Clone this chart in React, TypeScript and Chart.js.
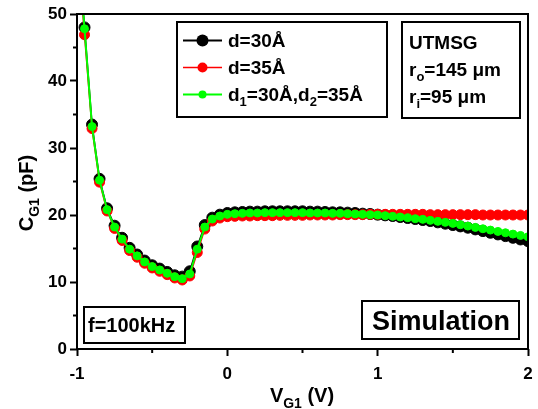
import React, { useEffect, useRef } from 'react';
import { Chart, registerables } from 'chart.js';
Chart.register(...registerables);

const vg = [-1, -0.95, -0.9, -0.85, -0.8, -0.75, -0.7, -0.65, -0.6, -0.55, -0.5, -0.45, -0.4, -0.35, -0.3, -0.25, -0.2, -0.15, -0.1, -0.05,
  0, 0.05, 0.1, 0.15, 0.2, 0.25, 0.3, 0.35, 0.4, 0.45, 0.5, 0.55, 0.6, 0.65, 0.7, 0.75, 0.8, 0.85, 0.9, 0.95,
  1, 1.05, 1.1, 1.15, 1.2, 1.25, 1.3, 1.35, 1.4, 1.45, 1.5, 1.55, 1.6, 1.65, 1.7, 1.75, 1.8, 1.85, 1.9, 1.95, 2];

const cD30 = [63, 48.0, 33.5, 25.4, 21.0, 18.4, 16.6, 15.1, 14.1, 13.2, 12.5, 12.0, 11.5, 11.0, 10.8, 11.6, 15.3, 18.5, 19.6, 20.05,
  20.3, 20.4, 20.45, 20.5, 20.5, 20.55, 20.55, 20.55, 20.55, 20.55,
  20.55, 20.5, 20.5, 20.45, 20.4, 20.4, 20.35, 20.3, 20.2, 20.15,
  20.05, 19.95, 19.85, 19.7, 19.55, 19.4, 19.25, 19.1, 18.9, 18.7,
  18.5, 18.3, 18.1, 17.85, 17.6, 17.35, 17.1, 16.85, 16.6, 16.35,
  16.1];

const cD35 = [61, 46.9, 32.9, 24.9, 20.6, 18.0, 16.2, 14.7, 13.7, 12.8, 12.1, 11.6, 11.1, 10.6, 10.3, 10.9, 14.4, 17.9, 19.1, 19.55,
  19.75, 19.8, 19.85, 19.85, 19.9, 19.9, 19.9, 19.95, 19.95, 19.95,
  19.95, 20.0, 20.0, 20.0, 20.0, 20.05, 20.05, 20.05, 20.05, 20.1,
  20.1, 20.1, 20.1, 20.1, 20.1, 20.1, 20.1, 20.05, 20.05, 20.05,
  20.05, 20.05, 20.05, 20.05, 20.0, 20.0, 20.0, 20.0, 20.0, 20.0,
  20.0];

const cD3035 = [62, 47.8, 33.2, 25.2, 20.8, 18.2, 16.4, 14.9, 13.9, 13.0, 12.3, 11.8, 11.3, 10.8, 10.5, 11.2, 14.9, 18.2, 19.4, 19.85,
  20.1, 20.2, 20.25, 20.3, 20.3, 20.35, 20.35, 20.35, 20.35, 20.35,
  20.35, 20.3, 20.3, 20.3, 20.25, 20.25, 20.2, 20.15, 20.1, 20.05,
  20.0, 19.9, 19.8, 19.7, 19.6, 19.45, 19.35, 19.2, 19.05, 18.9,
  18.75, 18.55, 18.35, 18.15, 17.95, 17.75, 17.55, 17.35, 17.15, 16.95,
  16.75];

const xTicks = [-1, 0, 1, 2];
const yTicks = [0, 10, 20, 30, 40, 50];
const xMinor = [-0.5, 0.5, 1.5];
const yMinor = [5, 15, 25, 35, 45];

const FAM = '"Liberation Sans", Arial, Helvetica, sans-serif';

type Part = [string, boolean?];

function drawRich(ctx: CanvasRenderingContext2D, parts: Part[], x: number, y: number, size: number, measureOnly = false) {
  let cx = x;
  for (const [t, sub] of parts) {
    const s = sub ? Math.round(size * 0.7) : size;
    ctx.font = `bold ${s}px ${FAM}`;
    if (!measureOnly) ctx.fillText(t, cx, sub ? y + size * 0.28 : y);
    cx += ctx.measureText(t).width;
  }
  return cx - x;
}

const legendItems: { parts: Part[]; color: string; r: number; lw: number }[] = [
  { parts: [['d=30Å']], color: '#000000', r: 6, lw: 2 },
  { parts: [['d=35Å']], color: '#ff0000', r: 5, lw: 1.5 },
  { parts: [['d'], ['1', true], ['=30Å,d'], ['2', true], ['=35Å']], color: '#00ff00', r: 4, lw: 2 },
];

const overlay = {
  id: 'overlay',
  afterDraw(chart: any) {
    const ctx: CanvasRenderingContext2D = chart.ctx;
    const { left, right, top, bottom } = chart.chartArea;
    const xs = chart.scales.x;
    const ys = chart.scales.y;
    ctx.save();
    ctx.strokeStyle = '#000';
    ctx.fillStyle = '#000';
    ctx.lineWidth = 2;
    ctx.strokeRect(left, top, right - left, bottom - top);
    // minor ticks
    ctx.beginPath();
    for (const v of xMinor) {
      const p = xs.getPixelForValue(v);
      ctx.moveTo(p, bottom);
      ctx.lineTo(p, bottom + 4);
    }
    for (const v of yMinor) {
      const p = ys.getPixelForValue(v);
      ctx.moveTo(left, p);
      ctx.lineTo(left - 4, p);
    }
    ctx.stroke();

    // axis titles
    ctx.textAlign = 'left';
    ctx.textBaseline = 'alphabetic';
    const xt: Part[] = [['V'], ['G1', true], [' (V)']];
    const xw = drawRich(ctx, xt, 0, 0, 20, true);
    drawRich(ctx, xt, 302 - xw / 2, 402, 20);
    const yt: Part[] = [['C'], ['G1', true], [' (pF)']];
    const yw = drawRich(ctx, yt, 0, 0, 20, true);
    ctx.save();
    ctx.translate(33, 193);
    ctx.rotate(-Math.PI / 2);
    drawRich(ctx, yt, -yw / 2, 0, 20);
    ctx.restore();

    // legend
    ctx.fillStyle = '#fff';
    ctx.fillRect(177, 22, 210, 95);
    ctx.strokeStyle = '#000';
    ctx.lineWidth = 2;
    ctx.strokeRect(177, 22, 210, 95);
    legendItems.forEach((it, i) => {
      const cy = 40.5 + i * 27;
      ctx.strokeStyle = it.color;
      ctx.lineWidth = it.lw;
      ctx.beginPath();
      ctx.moveTo(183, cy);
      ctx.lineTo(222, cy);
      ctx.stroke();
      ctx.fillStyle = it.color;
      ctx.beginPath();
      ctx.arc(202.5, cy, it.r, 0, Math.PI * 2);
      ctx.fill();
      ctx.fillStyle = '#000';
      drawRich(ctx, it.parts, 228, cy + 6.5, 19);
    });

    // info box
    ctx.strokeStyle = '#000';
    ctx.lineWidth = 2;
    ctx.strokeRect(402, 22, 118, 96);
    ctx.fillStyle = '#000';
    drawRich(ctx, [['UTMSG']], 409, 49, 19);
    drawRich(ctx, [['r'], ['o', true], ['=145 μm']], 409, 76, 19);
    drawRich(ctx, [['r'], ['i', true], ['=95 μm']], 409, 103, 19);

    // f box
    ctx.strokeRect(84, 307, 101, 36);
    drawRich(ctx, [['f=100kHz']], 88, 332, 20);

    // Simulation box
    ctx.strokeRect(362, 301, 157, 38);
    ctx.font = `bold 27px ${FAM}`;
    ctx.textAlign = 'center';
    ctx.fillText('Simulation', 441, 330);
    ctx.restore();
  },
};

export default function App() {
  const ref = useRef<HTMLCanvasElement>(null);
  useEffect(() => {
    if (!ref.current) return;
    const mk = (arr: number[]) => vg.map((x, i) => ({ x, y: arr[i] }));
    const tickFont = { family: FAM, size: 17, weight: 'bold' as const };
    const chart = new Chart(ref.current, {
      type: 'line',
      data: {
        datasets: [
          {
            label: 'd=30Å', data: mk(cD30), borderColor: '#000000', backgroundColor: '#000000',
            borderWidth: 1.5, pointRadius: 5.5, pointBorderWidth: 1, order: 3, tension: 0,
          },
          {
            label: 'd=35Å', data: mk(cD35), borderColor: '#ff0000', backgroundColor: '#ff0000',
            borderWidth: 1.5, pointRadius: 5, pointBorderWidth: 1, order: 2, tension: 0,
          },
          {
            label: 'd1=30Å,d2=35Å', data: mk(cD3035), borderColor: '#00ff00', backgroundColor: '#00ff00',
            borderWidth: 2, pointRadius: 4, pointBorderWidth: 1, order: 1, tension: 0,
          },
        ],
      },
      options: {
        responsive: false,
        animation: false,
        devicePixelRatio: 1,
        layout: { padding: { top: 14, right: 10, left: 0, bottom: 0 } },
        plugins: { legend: { display: false }, tooltip: { enabled: false } },
        scales: {
          x: {
            type: 'linear', min: -1, max: 2,
            afterBuildTicks: (s: any) => { s.ticks = xTicks.map((v) => ({ value: v })); },
            afterFit: (s: any) => { s.height = 60; s.paddingRight = 0; s.paddingLeft = 0; },
            ticks: { font: tickFont, color: '#000', padding: 8, maxRotation: 0 },
            grid: { display: true, drawOnChartArea: false, drawTicks: true, tickLength: 7, tickWidth: 2, tickColor: '#000', color: '#000' },
            border: { display: false },
          },
          y: {
            type: 'linear', min: 0, max: 50,
            afterBuildTicks: (s: any) => { s.ticks = yTicks.map((v) => ({ value: v })); },
            afterFit: (s: any) => { s.width = 77; s.paddingTop = 0; s.paddingBottom = 0; },
            ticks: { font: tickFont, color: '#000', padding: 3 },
            grid: { display: true, drawOnChartArea: false, drawTicks: true, tickLength: 7, tickWidth: 2, tickColor: '#000', color: '#000' },
            border: { display: false },
          },
        },
      },
      plugins: [overlay],
    } as any);
    return () => chart.destroy();
  }, []);
  return (
    <div style={{ position: 'fixed', left: 0, top: 0, width: 538, height: 409, background: '#fff' }}>
      <canvas ref={ref} width={538} height={409} style={{ display: 'block' }} />
    </div>
  );
}
